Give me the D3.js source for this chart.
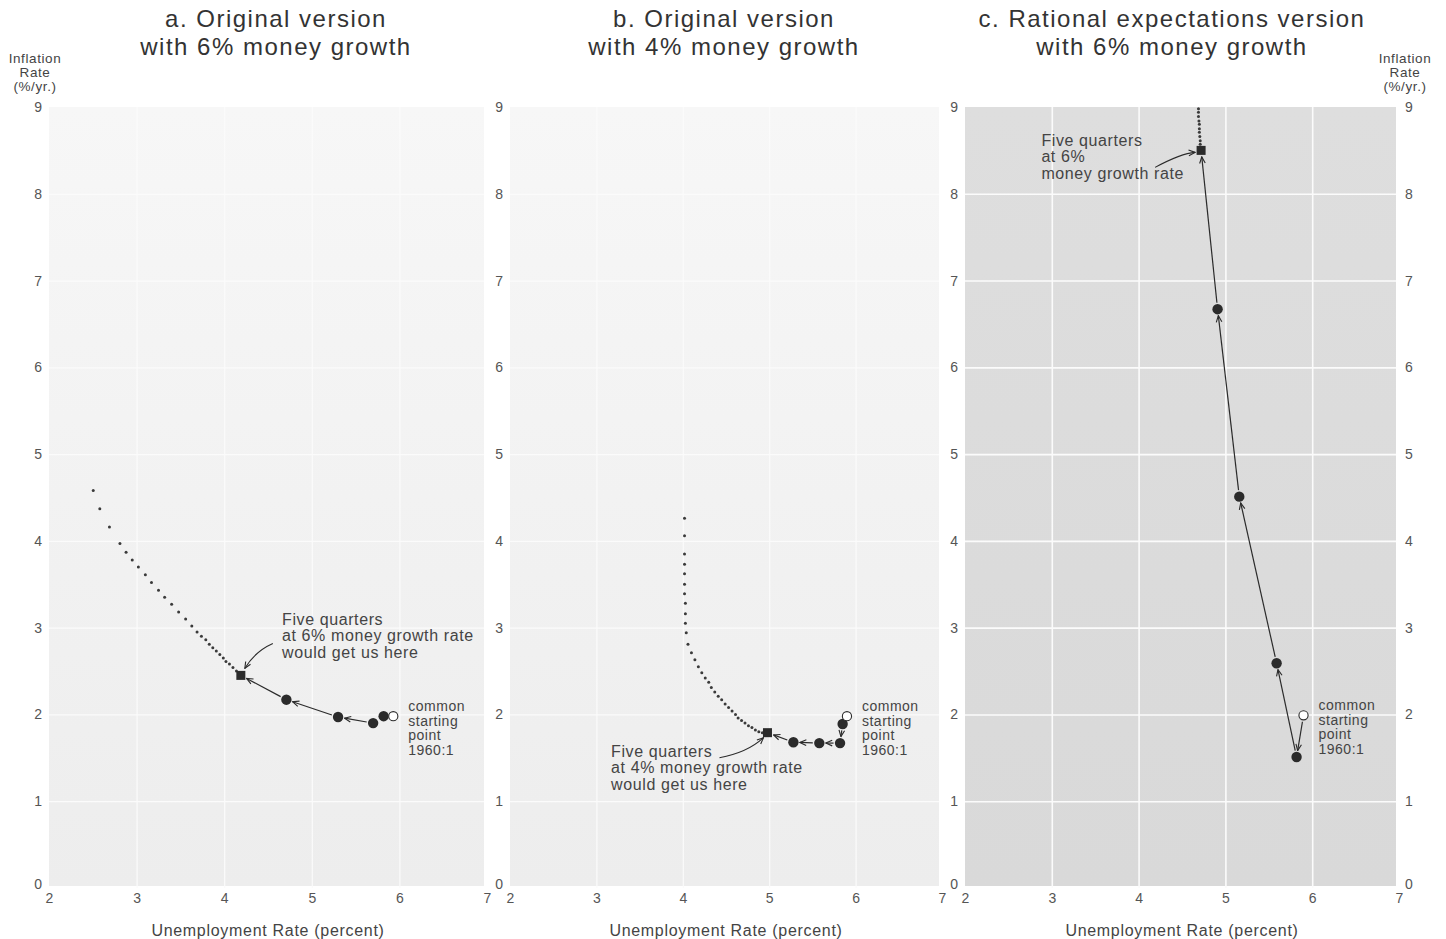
<!DOCTYPE html>
<html>
<head>
<meta charset="utf-8">
<script src="https://cdn.jsdelivr.net/npm/d3@7"></script>
<style>
  body { margin: 0; background: #fff; }
  svg { display: block; font-family: "Liberation Sans", Arial, sans-serif; }
</style>
</head>
<body>
<svg id="chart" width="1446" height="939"></svg>
<script>
// axis ticks
const xTicks = [2, 3, 4, 5, 6, 7];
const yTicks = [0, 1, 2, 3, 4, 5, 6, 7, 8, 9];

// common starting point 1960:1 (unemployment, inflation)
const startA = [5.93, 1.98];
const startB = [5.90, 1.98];
const startC = [5.90, 1.99];

// five simulated quarters, last one is the square marker
const quartersA = [[5.82, 1.98], [5.70, 1.90], [5.30, 1.97], [4.71, 2.17], [4.19, 2.45]];
const quartersB = [[5.85, 1.89], [5.82, 1.67], [5.58, 1.67], [5.28, 1.68], [4.98, 1.79]];
const quartersC = [[5.82, 1.51], [5.59, 2.59], [5.16, 4.51], [4.91, 6.67], [4.72, 8.50]];

// which steps get an arrow (0 = start, 1..5 = quarters)
const arrowsA = [[2, 3], [3, 4], [4, 5]];
const arrowsB = [[1, 2], [2, 3], [3, 4], [4, 5]];
const arrowsC = [[0, 1], [1, 2], [2, 3], [3, 4], [4, 5]];

// dotted continuation paths
const trailA = [[2.505, 4.58], [2.58, 4.37], [2.69, 4.16], [2.81, 3.97], [2.88, 3.87], [2.95, 3.78],
  [3.02, 3.70], [3.10, 3.61], [3.17, 3.52], [3.25, 3.43], [3.32, 3.35], [3.40, 3.27], [3.48, 3.18],
  [3.56, 3.10], [3.63, 3.02], [3.69, 2.95], [3.74, 2.90], [3.79, 2.86], [3.83, 2.81], [3.87, 2.77],
  [3.91, 2.73], [3.95, 2.69], [3.99, 2.65], [4.02, 2.61], [4.06, 2.58], [4.10, 2.54], [4.14, 2.50]];
const trailB = [[4.02, 4.26], [4.02, 4.06], [4.02, 3.85], [4.02, 3.73], [4.02, 3.62], [4.02, 3.50],
  [4.02, 3.39], [4.03, 3.28], [4.03, 3.16], [4.03, 3.05], [4.04, 2.94], [4.06, 2.81], [4.10, 2.71],
  [4.14, 2.63], [4.18, 2.55], [4.22, 2.48], [4.26, 2.42], [4.30, 2.37], [4.33, 2.31], [4.37, 2.26],
  [4.41, 2.21], [4.45, 2.17], [4.49, 2.12], [4.53, 2.08], [4.57, 2.04], [4.61, 2.00], [4.64, 1.96],
  [4.68, 1.93], [4.72, 1.90], [4.76, 1.87], [4.80, 1.85], [4.84, 1.82], [4.88, 1.80], [4.92, 1.79]];
const trailC = [[4.71, 8.57], [4.71, 8.61], [4.705, 8.66], [4.70, 8.71], [4.70, 8.75], [4.70, 8.80],
  [4.695, 8.84], [4.69, 8.89], [4.69, 8.94], [4.69, 8.98]];

// text
const titleA = ["a. Original version", "with 6% money growth"];
const titleB = ["b. Original version", "with 4% money growth"];
const titleC = ["c. Rational expectations version", "with 6% money growth"];
const noteA = ["Five quarters", "at 6% money growth rate", "would get us here"];
const noteB = ["Five quarters", "at 4% money growth rate", "would get us here"];
const noteC = ["Five quarters", "at 6%", "money growth rate"];
const startNote = ["common", "starting", "point", "1960:1"];
const yLabel = ["Inflation", "Rate", "(%/yr.)"];
const xLabel = "Unemployment Rate (percent)";

// layout
const yTop = 107, yBottom = 888;
const panels = [
  { title: titleA, titleX: 276, start: startA, quarters: quartersA, arrows: arrowsA, trail: trailA,
    note: noteA, noteAt: [4.66, 3.03], pointer: [[32, -32], [14, -24], [4, -7]],
    left: 49, right: 487, bg: ["#f7f7f7", "#ededed"], grid: "#fbfbfb", gridW: 1.2 },
  { title: titleB, titleX: 724, start: startB, quarters: quartersB, arrows: arrowsB, trail: trailB,
    note: noteB, noteAt: [3.17, 1.51], pointer: [[-48, 25], [-20, 20], [-4, 5]],
    left: 510, right: 942, bg: ["#f7f7f7", "#ededed"], grid: "#fbfbfb", gridW: 1.2 },
  { title: titleC, titleX: 1172, start: startC, quarters: quartersC, arrows: arrowsC, trail: trailC,
    note: noteC, noteAt: [2.88, 8.55], pointer: [[-46, 17], [-20, 3], [-6, 2]],
    left: 965, right: 1399, bg: ["#dedede", "#d9d9d9"], grid: "#fbfbfb", gridW: 1.6, rightAxis: true }
];

const ink = "#2b2b2b";
const textCol = "#444";
const svg = d3.select("#chart");
const defs = svg.append("defs");

defs.append("marker")
  .attr("id", "arrow")
  .attr("viewBox", "0 0 10 10")
  .attr("refX", 9).attr("refY", 5)
  .attr("markerWidth", 8).attr("markerHeight", 8)
  .attr("markerUnits", "userSpaceOnUse")
  .attr("orient", "auto")
  .append("path")
  .attr("d", "M1,1.5 L9,5 L1,8.5")
  .attr("fill", "none")
  .attr("stroke", ink)
  .attr("stroke-width", 1.4);

const y = d3.scaleLinear().domain([0, 9]).range([yBottom, yTop]);

panels.forEach((p, i) => {
  const x = d3.scaleLinear().domain([2, 7]).range([p.left, p.right]);
  const g = svg.append("g");
  const cx = (p.left + p.right) / 2;

  const grad = defs.append("linearGradient")
    .attr("id", "bg" + i).attr("x1", 0).attr("y1", 0).attr("x2", 0).attr("y2", 1);
  grad.append("stop").attr("offset", "0%").attr("stop-color", p.bg[0]);
  grad.append("stop").attr("offset", "100%").attr("stop-color", p.bg[1]);

  g.append("rect")
    .attr("x", p.left).attr("y", yTop)
    .attr("width", p.right - p.left - 3).attr("height", yBottom - yTop - 2)
    .attr("fill", `url(#bg${i})`);

  // grid lines
  g.append("g")
    .attr("transform", `translate(0,${yBottom})`)
    .call(d3.axisBottom(x).tickValues(xTicks.slice(1, -1)).tickSize(-(yBottom - yTop)).tickFormat(""))
    .call(a => a.select(".domain").remove())
    .call(a => a.selectAll("line").attr("stroke", p.grid).attr("stroke-width", p.gridW));
  g.append("g")
    .attr("transform", `translate(${p.left},0)`)
    .call(d3.axisLeft(y).tickValues(yTicks.slice(1, -1)).tickSize(-(p.right - p.left - 3)).tickFormat(""))
    .call(a => a.select(".domain").remove())
    .call(a => a.selectAll("line").attr("stroke", p.grid).attr("stroke-width", p.gridW));

  // tick labels
  const styleAxis = a => {
    a.select(".domain").remove();
    a.selectAll("text").attr("fill", "#555").attr("font-size", 14)
      .attr("font-family", '"Liberation Sans", Arial, sans-serif');
  };
  g.append("g")
    .attr("transform", `translate(0,${yBottom})`)
    .call(d3.axisBottom(x).tickValues(xTicks).tickFormat(d3.format("d")).tickSize(0).tickPadding(5))
    .call(styleAxis);
  const liftZero = a => a.selectAll(".tick").filter(d => d === 0).select("text").attr("dy", "0.05em");
  g.append("g")
    .attr("transform", `translate(${p.left},0)`)
    .call(d3.axisLeft(y).tickValues(yTicks).tickFormat(d3.format("d")).tickSize(0).tickPadding(7))
    .call(styleAxis)
    .call(liftZero);
  if (p.rightAxis) {
    g.append("g")
      .attr("transform", `translate(${p.right},0)`)
      .call(d3.axisRight(y).tickValues(yTicks).tickFormat(d3.format("d")).tickSize(0).tickPadding(6))
      .call(styleAxis)
      .call(liftZero);
  }

  // titles
  g.append("text")
    .attr("text-anchor", "middle")
    .attr("font-size", 24).attr("letter-spacing", 1.5).attr("fill", "#333")
    .selectAll("tspan").data(p.title).join("tspan")
    .attr("x", p.titleX).attr("y", (d, k) => 27 + k * 28).text(d => d);

  g.append("text")
    .attr("x", cx).attr("y", 936).attr("text-anchor", "middle")
    .attr("font-size", 16).attr("letter-spacing", 0.7).attr("fill", textCol)
    .text(xLabel);

  // dotted trail
  g.selectAll(".trail").data(p.trail).join("circle")
    .attr("cx", d => x(d[0])).attr("cy", d => y(d[1]))
    .attr("r", 1.5).attr("fill", "#3a3a3a");

  // arrows between quarters
  const seq = [p.start].concat(p.quarters);
  p.arrows.forEach(([a, b]) => {
    const x0 = x(seq[a][0]), y0 = y(seq[a][1]);
    const x1 = x(seq[b][0]), y1 = y(seq[b][1]);
    const len = Math.hypot(x1 - x0, y1 - y0);
    const ux = (x1 - x0) / len, uy = (y1 - y0) / len;
    const gap = 6.5;
    g.append("line")
      .attr("x1", x0 + ux * gap).attr("y1", y0 + uy * gap)
      .attr("x2", x1 - ux * gap).attr("y2", y1 - uy * gap)
      .attr("stroke", ink).attr("stroke-width", 1.2)
      .attr("marker-end", "url(#arrow)");
  });

  // quarters
  g.selectAll(".q").data(p.quarters.slice(0, 4)).join("circle")
    .attr("cx", d => x(d[0])).attr("cy", d => y(d[1]))
    .attr("r", 5.2).attr("fill", ink);
  const last = p.quarters[4];
  g.append("rect")
    .attr("x", x(last[0]) - 4.5).attr("y", y(last[1]) - 4.5)
    .attr("width", 9).attr("height", 9).attr("fill", ink);

  // start point
  g.append("circle")
    .attr("cx", x(p.start[0])).attr("cy", y(p.start[1]))
    .attr("r", 4.6).attr("fill", "#fff").attr("stroke", ink).attr("stroke-width", 1.1);

  g.append("text")
    .attr("font-size", 14).attr("letter-spacing", 0.5).attr("fill", textCol)
    .selectAll("tspan").data(startNote).join("tspan")
    .attr("x", x(p.start[0]) + 15)
    .attr("y", (d, k) => y(p.start[1]) - 5 + k * 14.5)
    .text(d => d);

  // annotation
  g.append("text")
    .attr("font-size", 16).attr("letter-spacing", 0.6).attr("fill", textCol)
    .selectAll("tspan").data(p.note).join("tspan")
    .attr("x", x(p.noteAt[0]))
    .attr("y", (d, k) => y(p.noteAt[1]) + k * 16.3)
    .text(d => d);

  const sx = x(last[0]), sy = y(last[1]);
  const pt = p.pointer.map(o => [sx + o[0], sy + o[1]]);
  g.append("path")
    .attr("d", `M${pt[0][0]},${pt[0][1]} Q${pt[1][0]},${pt[1][1]} ${pt[2][0]},${pt[2][1]}`)
    .attr("fill", "none").attr("stroke", ink).attr("stroke-width", 1.1)
    .attr("marker-end", "url(#arrow)");
});

// y axis titles
[35, 1405].forEach(cx => {
  svg.append("text")
    .attr("text-anchor", "middle").attr("font-size", 13.5).attr("letter-spacing", 0.6).attr("fill", textCol)
    .selectAll("tspan").data(yLabel).join("tspan")
    .attr("x", cx).attr("y", (d, k) => 63 + k * 14)
    .text(d => d);
});
</script>
</body>
</html>
